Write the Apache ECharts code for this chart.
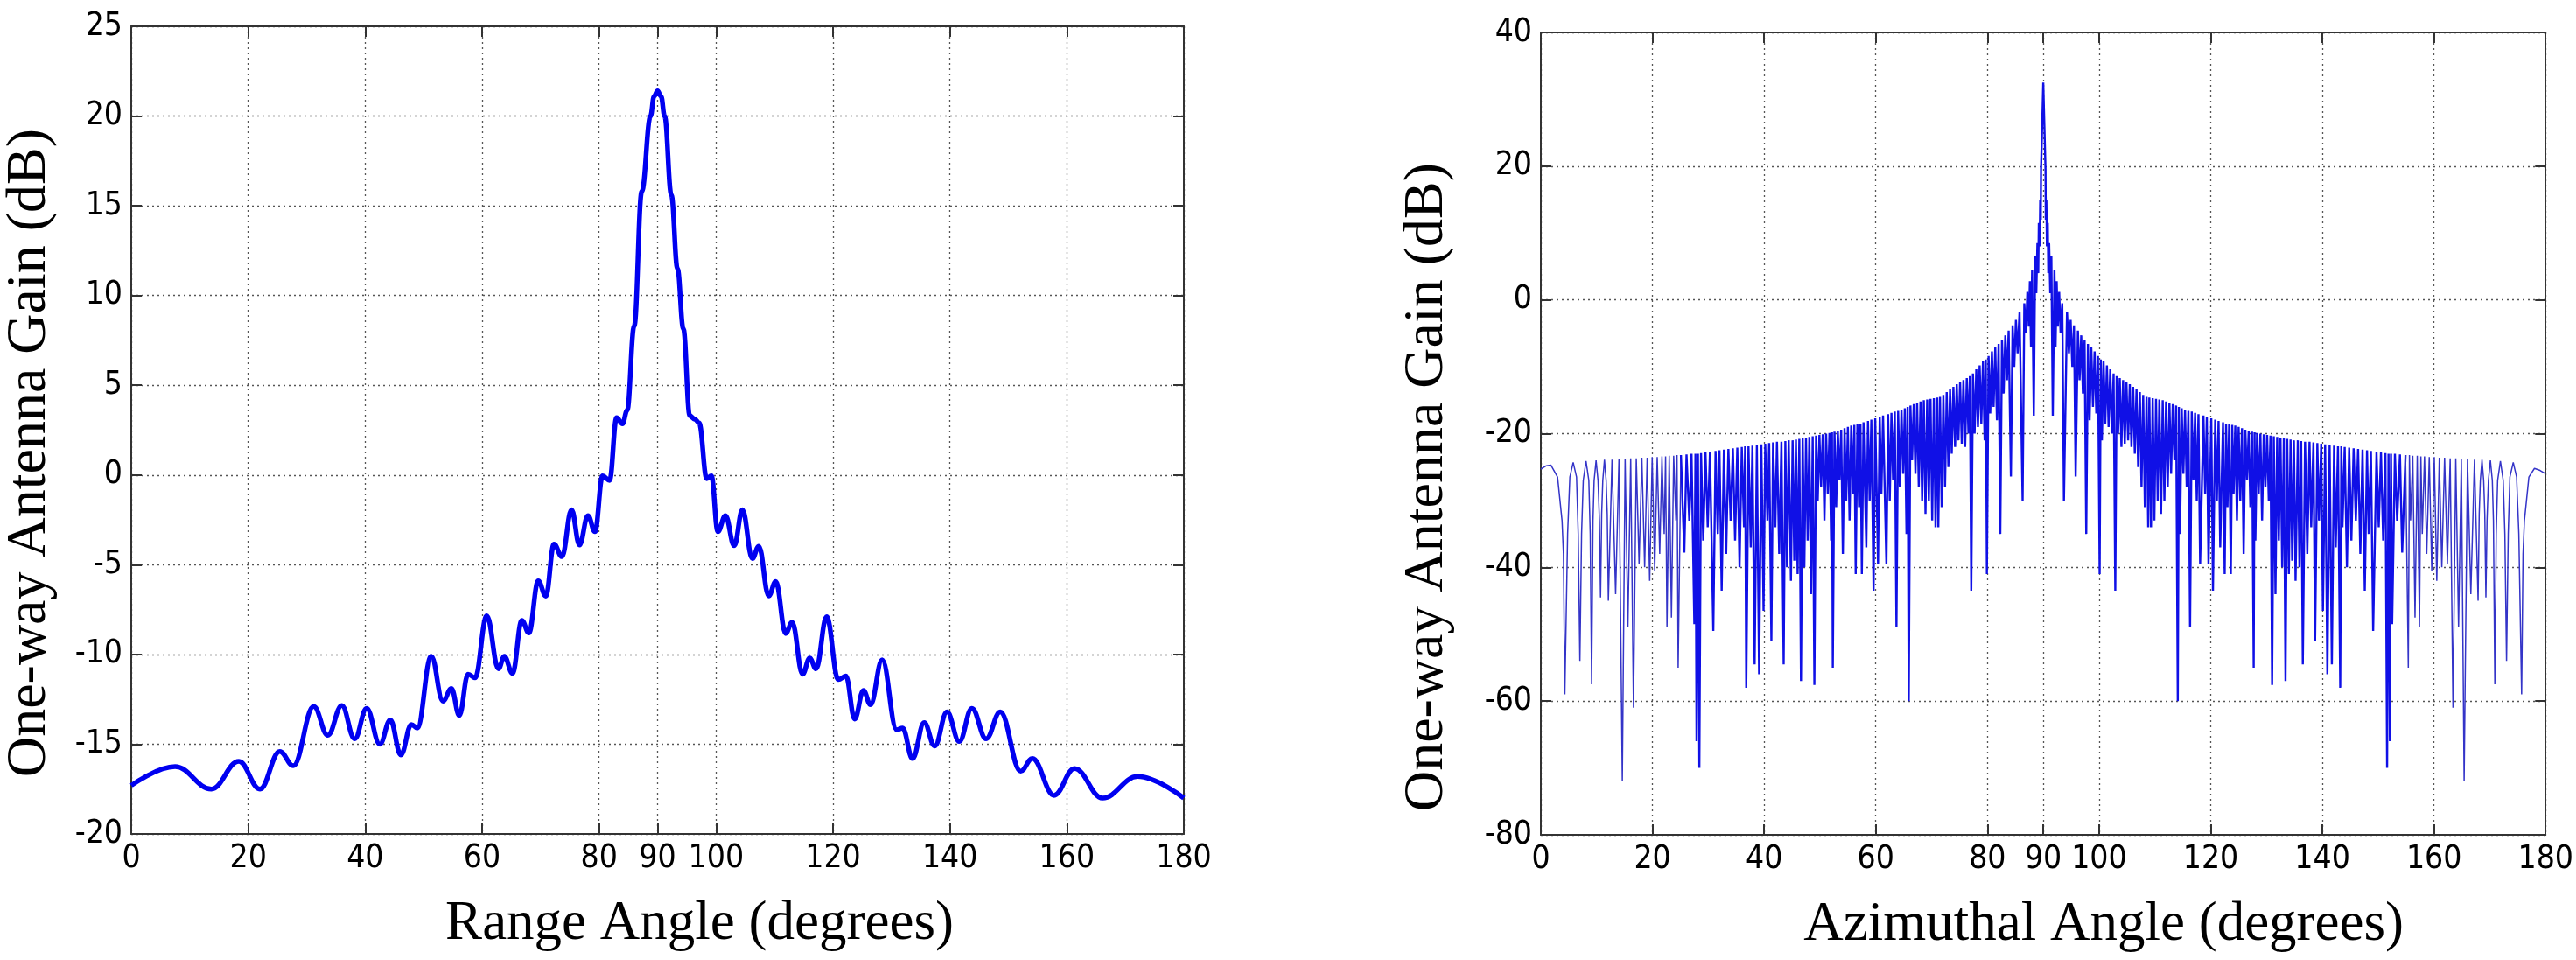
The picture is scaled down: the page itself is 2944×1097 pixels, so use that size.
<!DOCTYPE html>
<html>
<head>
<meta charset="utf-8">
<title>One-way antenna gain</title>
<script src="https://cdn.jsdelivr.net/npm/echarts@6/dist/echarts.min.js"></script>
<style>
  html, body { margin: 0; padding: 0; background: #fff; }
  #chart { width: 2944px; height: 1097px; }
</style>
</head>
<body>
<div id="chart"></div>
<script>
(function () {
    'use strict';

    // Tick marks shared by both angle axes (note the extra 90).
    var ANGLE_TICKS = [0, 20, 40, 60, 80, 90, 100, 120, 140, 160, 180];

    // Range pattern: [angle deg, gain dB], read at lobe peaks / dips.
    var rangeGain = [
        [0, -17.3], [7.5, -16.25], [13.7, -17.5], [18.4, -15.95], [22.0, -17.5],
        [25.4, -15.4], [27.7, -16.2], [31.2, -12.9], [33.6, -14.5], [36.0, -12.85],
        [38.2, -14.7], [40.25, -13.0], [42.5, -15.0], [44.3, -13.65], [46.1, -15.6],
        [47.9, -13.9], [48.9, -14.1], [51.3, -10.1], [53.3, -12.6], [54.75, -11.9],
        [56.1, -13.4], [57.6, -11.1], [58.8, -11.3], [60.8, -7.85], [62.8, -10.8],
        [63.8, -10.1], [65.2, -11.05], [66.8, -8.1], [68.0, -8.8], [69.6, -5.9],
        [70.9, -6.75], [72.3, -3.85], [73.65, -4.55], [75.3, -1.94], [76.65, -3.9],
        [78.1, -2.26], [79.3, -3.16], [80.6, -0.05], [81.8, -0.3], [83.0, 3.2],
        [84.0, 2.85], [84.8, 3.6], [86.0, 8.3], [87.3, 15.8], [88.8, 20.0],
        [89.4, 21.1], [90.0, 21.4], [90.6, 21.1], [91.2, 20.0], [92.35, 15.6],
        [93.4, 11.5], [94.4, 8.15], [95.5, 3.3], [96.4, 3.1], [97.1, 2.9],
        [98.4, -0.2], [99.2, -0.05],
        [100.3, -3.16], [101.6, -2.26], [103.1, -3.94], [104.5, -1.94], [106.2, -4.66],
        [107.3, -3.97], [109.0, -6.74], [110.2, -5.93], [111.9, -8.83], [113.0, -8.2],
        [114.8, -11.1], [116.0, -10.2], [117.1, -10.8], [118.9, -7.9], [120.9, -11.4],
        [122.2, -11.2], [123.7, -13.6], [125.2, -12.0], [126.4, -12.8], [128.4, -10.3],
        [130.9, -14.2], [131.9, -14.1], [133.6, -15.8], [135.6, -13.8], [137.4, -15.1],
        [139.5, -13.2], [141.6, -14.85], [143.75, -13.0], [146.2, -14.7], [148.6, -13.2],
        [152.1, -16.5], [154.1, -15.8], [157.8, -17.85], [161.3, -16.35], [166.1, -18.0],
        [172.1, -16.8], [180, -18.0]
    ];

    // Azimuth pattern, flat list of angle, dB pairs. Left half (0 -> 89.8).
    var azLeft = [
        0, -25.3, 1.0, -24.8, 1.8, -24.7, 3.0, -26.5, 3.8, -33, 4.05, -38, 4.3, -59,
        4.8, -35, 5.2, -26.5, 5.8, -24.3, 6.4, -26.5, 6.7, -35, 7.0, -54,
        7.3, -35, 7.6, -27, 8.1, -24.1, 8.6, -27, 8.85, -35, 9.1, -57.5,
        9.35, -33, 9.55, -27, 9.9, -24.0, 10.25, -27, 10.5, -33, 10.7, -44.5,
        10.9, -32, 11.1, -27, 11.4, -23.9, 11.7, -27, 11.9, -32, 12.1, -45,
        12.75, -23.9, 13.4, -44, 14.0, -23.8, 14.6, -72, 15.1, -23.8, 15.6, -49,
        16.1, -23.7, 16.6, -61, 17.1, -23.7, 17.6, -39.5, 18.1, -23.6, 18.6, -40,
        19.05, -23.6, 19.5, -42, 19.95, -23.5, 20.4, -40.5, 20.85, -23.5, 21.3, -38,
        21.7, -23.4, 22.1, -35, 22.35, -23.4, 22.6, -49, 23.0, -23.3, 23.4, -47.5,
        23.8, -23.3, 24.2, -33, 24.4, -23.2, 24.6, -55, 25.1, -23.2, 25.7, -37.8,
        26.1, -23.1, 26.6, -33, 27.0, -23.0, 27.5, -48.5, 27.7, -23.0, 27.9, -66,
        28.15, -23.0, 28.4, -70, 28.7, -22.9, 29.1, -36, 29.5, -22.8, 29.9, -34,
        30.3, -22.7, 30.9, -49.5, 31.3, -22.6, 31.7, -35, 32.0, -22.5, 32.4, -43.5,
        32.8, -22.4, 33.2, -38, 33.6, -22.3, 34.0, -33, 34.4, -22.2, 34.8, -36,
        35.2, -22.1, 35.6, -40, 36.0, -22.0, 36.4, -34, 36.6, -21.9, 36.8, -58,
        37.2, -21.9, 37.6, -37, 37.9, -21.8, 38.3, -54.5, 38.7, -21.7, 39.1, -56,
        39.5, -21.6, 39.9, -46.5, 40.2, -21.5, 40.6, -33, 40.9, -21.4, 41.3, -51,
        41.6, -21.3, 42.0, -34, 42.3, -21.2, 42.7, -38, 43.1, -21.2, 43.5, -54.5,
        43.8, -21.1, 44.1, -40, 44.4, -21.0, 44.8, -42, 45.1, -21.0, 45.4, -39,
        45.7, -20.9, 46.0, -41, 46.3, -20.8, 46.6, -57, 46.9, -20.7, 47.2, -40,
        47.5, -20.6, 47.8, -36, 48.1, -20.5, 48.4, -44, 48.7, -20.4, 49.0, -57.6,
        49.3, -20.3, 49.6, -30, 49.9, -20.2, 50.2, -28, 50.5, -20.1, 50.8, -33,
        51.1, -20.0, 51.4, -29, 51.7, -19.9, 52.0, -36, 52.15, -19.8, 52.3, -55,
        52.6, -19.7, 52.9, -31, 53.2, -19.6, 53.5, -27, 53.8, -19.4, 54.1, -38,
        54.4, -19.2, 54.7, -30, 55.0, -19.0, 55.3, -33, 55.6, -18.8, 55.9, -29,
        56.15, -18.7, 56.4, -41, 56.7, -18.6, 57.0, -31, 57.25, -18.5, 57.5, -41,
        57.8, -18.3, 58.3, -37, 58.6, -18.1, 58.9, -30, 59.2, -17.9, 59.6, -43.5,
        59.9, -17.7, 60.4, -39.5, 60.7, -17.5, 61.0, -29, 61.3, -17.3, 61.9, -39.5,
        62.2, -17.1, 62.5, -30, 62.8, -16.9, 63.1, -27, 63.4, -16.7, 63.7, -49,
        64.0, -16.6, 64.3, -28, 64.6, -16.4, 64.9, -26, 65.2, -16.2, 65.5, -35,
        65.7, -16.0, 65.9, -60, 66.2, -15.8, 66.5, -24, 66.8, -15.6, 67.1, -26,
        67.4, -15.4, 67.7, -28, 68.0, -15.2, 68.3, -30, 68.6, -15.0, 68.9, -32,
        69.2, -14.9, 69.5, -30, 69.8, -14.8, 70.1, -33, 70.4, -14.7, 70.7, -34,
        71.0, -14.6, 71.2, -34, 71.5, -14.5, 71.8, -31, 72.1, -14.2, 72.4, -28,
        72.7, -13.8, 73.0, -25, 73.3, -13.4, 73.6, -23, 73.9, -13.0, 74.2, -22,
        74.5, -12.6, 74.8, -21, 75.1, -12.3, 75.4, -21.5, 75.7, -12.0, 76.0, -22,
        76.3, -11.7, 76.6, -20, 76.85, -11.4, 77.1, -43.5, 77.4, -11.0, 77.7, -20,
        78.0, -10.4, 78.3, -19, 78.6, -9.8, 78.9, -18.5, 79.2, -9.2, 79.5, -21,
        79.7, -8.9, 79.9, -41, 80.2, -8.4, 80.5, -17, 80.8, -7.7, 81.1, -16,
        81.4, -7.1, 81.7, -18, 82.0, -6.6, 82.3, -35, 82.6, -6.0, 82.9, -14,
        83.2, -5.3, 83.5, -12, 83.8, -4.6, 84.2, -26.4, 84.5, -3.8, 84.8, -10,
        85.1, -3.0, 85.4, -8, 85.75, -1.8, 86.3, -30, 86.6, -0.5, 86.9, -5,
        87.15, 1.2, 87.4, -4, 87.6, 2.8, 87.8, -7, 88.0, 4.5, 88.3, -17.3,
        88.55, 6.5, 88.75, 1, 88.95, 8.5, 89.1, 4, 89.2, 11.5, 89.35, 8,
        89.45, 15, 89.55, 12, 89.6, 19.5, 89.8, 26
    ];

    // Main beam peak.
    var azPeak = [90.0, 32.5];

    // Right half (90.2 -> 180).
    var azRight = [
        90.2, 26, 90.4, 19.5, 90.45, 12, 90.55, 15, 90.65, 8, 90.8, 11.5,
        90.9, 4, 91.05, 8.5, 91.25, 1, 91.45, 6.5, 91.7, -17.3, 92.0, 4.5,
        92.2, -7, 92.4, 2.8, 92.6, -4, 92.85, 1.2, 93.1, -5, 93.4, -0.5,
        93.7, -30, 94.25, -1.8, 94.6, -8, 94.9, -3.0, 95.2, -10, 95.5, -3.8,
        95.8, -26.4, 96.2, -4.6, 96.5, -12, 96.8, -5.3, 97.1, -14, 97.4, -6.0,
        97.7, -35, 98.0, -6.6, 98.3, -18, 98.6, -7.1, 98.9, -16, 99.2, -7.7,
        99.5, -17, 99.8, -8.4, 100.1, -41, 100.3, -8.9, 100.5, -21, 100.8, -9.2,
        101.1, -18.5, 101.4, -9.8, 101.7, -19, 102.0, -10.4, 102.3, -20, 102.6, -11.0,
        102.9, -43.5, 103.15, -11.4, 103.4, -20, 103.7, -11.7, 104.0, -22, 104.3, -12.0,
        104.6, -21.5, 104.9, -12.3, 105.2, -21, 105.5, -12.6, 105.8, -22, 106.1, -13.0,
        106.4, -23, 106.7, -13.4, 107.0, -25, 107.3, -13.8, 107.6, -28, 107.9, -14.2,
        108.2, -31, 108.5, -14.5, 108.8, -34, 109.0, -14.6, 109.3, -34, 109.6, -14.7,
        109.9, -33, 110.2, -14.8, 110.5, -30, 110.8, -14.9, 111.1, -32, 111.4, -15.0,
        111.7, -30, 112.0, -15.2, 112.3, -28, 112.6, -15.4, 112.9, -26, 113.2, -15.6,
        113.5, -24, 113.8, -15.8, 114.1, -60, 114.3, -16.0, 114.5, -35, 114.8, -16.2,
        115.1, -26, 115.4, -16.4, 115.7, -28, 116.0, -16.6, 116.3, -49, 116.6, -16.7,
        116.9, -27, 117.2, -16.9, 117.5, -30, 117.8, -17.1, 118.1, -39.5, 118.7, -17.3,
        119.0, -29, 119.3, -17.5, 119.6, -39.5, 120.1, -17.7, 120.4, -43.5, 120.8, -17.9,
        121.1, -30, 121.4, -18.1, 121.7, -37, 122.2, -18.3, 122.5, -41, 122.75, -18.5,
        123.0, -31, 123.3, -18.6, 123.6, -41, 123.85, -18.7, 124.1, -29, 124.4, -18.8,
        124.7, -33, 125.0, -19.0, 125.3, -30, 125.6, -19.2, 125.9, -38, 126.2, -19.4,
        126.5, -27, 126.8, -19.6, 127.1, -31, 127.4, -19.7, 127.7, -55, 127.85, -19.8,
        128.0, -36, 128.3, -19.9, 128.6, -29, 128.9, -20.0, 129.2, -33, 129.5, -20.1,
        129.8, -28, 130.1, -20.2, 130.4, -30, 130.7, -20.3, 131.0, -57.6, 131.3, -20.4,
        131.6, -44, 131.9, -20.5, 132.2, -36, 132.5, -20.6, 132.8, -40, 133.1, -20.7,
        133.4, -57, 133.7, -20.8, 134.0, -41, 134.3, -20.9, 134.6, -39, 134.9, -21.0,
        135.2, -42, 135.6, -21.0, 135.9, -40, 136.2, -21.1, 136.5, -54.5, 136.9, -21.2,
        137.3, -38, 137.7, -21.2, 138.0, -34, 138.4, -21.3, 138.7, -51, 139.1, -21.4,
        139.4, -33, 139.8, -21.5, 140.1, -46.5, 140.5, -21.6, 140.9, -56, 141.3, -21.7,
        141.7, -54.5, 142.1, -21.8, 142.4, -37, 142.8, -21.9, 143.2, -58, 143.4, -21.9,
        143.6, -34, 144.0, -22.0, 144.4, -40, 144.8, -22.1, 145.2, -36, 145.6, -22.2,
        146.0, -33, 146.4, -22.3, 146.8, -38, 147.2, -22.4, 147.6, -43.5, 148.0, -22.5,
        148.3, -35, 148.7, -22.6, 149.1, -49.5, 149.7, -22.7, 150.1, -34, 150.5, -22.8,
        150.9, -36, 151.3, -22.9, 151.6, -70, 151.85, -23.0, 152.1, -66, 152.3, -23.0,
        152.5, -48.5, 153.0, -23.0, 153.4, -33, 153.9, -23.1, 154.3, -37.8, 154.9, -23.2,
        155.4, -55, 155.6, -23.2, 155.8, -33, 156.2, -23.3, 156.6, -47.5, 157.0, -23.3,
        157.4, -49, 157.65, -23.4, 157.9, -35, 158.3, -23.4, 158.7, -38, 159.15, -23.5,
        159.6, -40.5, 160.05, -23.5, 160.5, -42, 160.95, -23.6, 161.4, -40, 161.9, -23.6,
        162.4, -39.5, 162.9, -23.7, 163.4, -61, 163.9, -23.7, 164.4, -49, 164.9, -23.8,
        165.4, -72, 166.0, -23.8, 166.6, -44, 167.25, -23.9, 167.9, -45, 168.1, -32,
        168.3, -27, 168.6, -23.9, 168.9, -27, 169.1, -32, 169.3, -44.5, 169.5, -33,
        169.75, -27, 170.1, -24.0, 170.45, -27, 170.65, -33, 170.9, -57.5, 171.15, -35,
        171.4, -27, 171.9, -24.1, 172.4, -27, 172.7, -35, 173.0, -54, 173.3, -35,
        173.6, -26.5, 174.2, -24.3, 174.8, -26.5, 175.2, -35, 175.7, -59, 175.95, -38,
        176.2, -33, 177.0, -26.5, 178.0, -25.2, 179.0, -25.5, 180, -26.0
    ];

    var SERIF = "'Liberation Serif', 'Times New Roman', serif";
    var NARROW = "'Liberation Sans Narrow', 'DejaVu Sans Condensed', 'Arial Narrow', sans-serif";

    function pairs(flat) {
        var out = [];
        for (var i = 0; i < flat.length; i += 2) out.push([flat[i], flat[i + 1]]);
        return out;
    }

    var azData = pairs(azLeft).concat([azPeak], pairs(azRight));

    // Sparse outer lobes are drawn thin, the crowded middle a bit heavier so it
    // fills in solid the way the original plot does. Boundary points overlap.
    function inRange(lo, hi) {
        return azData.filter(function (p) { return p[0] >= lo && p[0] <= hi; });
    }
    var azOuterL = inRange(0, 25.1);
    var azMiddle = inRange(25.1, 154.9);
    var azOuterR = inRange(154.9, 180);

    /* ------------------------------------------------------------------ */
    /*  Axis helpers                                                       */
    /* ------------------------------------------------------------------ */

    var BOX = { show: true, onZero: false, lineStyle: { color: '#333', width: 2 } };
    var GRID_LINE = { show: true, lineStyle: { color: '#555', width: 1.3, type: [2, 4] } };
    var LABEL = { color: '#000', fontFamily: NARROW, fontSize: 37 };
    var TICK_STYLE = { color: '#333', width: 2 };

    function angleAxis(gridIndex, isTop, name, nameShift) {
        return {
            type: 'value', gridIndex: gridIndex, min: 0, max: 180,
            position: isTop ? 'top' : 'bottom',
            axisLine: BOX,
            axisTick: { show: true, inside: true, length: 12, customValues: ANGLE_TICKS, lineStyle: TICK_STYLE },
            axisLabel: isTop ? { show: false } : Object.assign({ margin: 10, customValues: ANGLE_TICKS }, LABEL),
            splitLine: isTop ? { show: false } : GRID_LINE,
            name: isTop ? '' : name,
            nameLocation: 'middle', nameGap: 72,
            nameTextStyle: { fontFamily: SERIF, fontSize: 63, color: '#000', padding: [0, 0, 0, (nameShift || 0) * 2] }
        };
    }

    function gainAxis(gridIndex, isRight, min, max, interval, name, nameShift, nameGap) {
        return {
            type: 'value', gridIndex: gridIndex, min: min, max: max, interval: interval,
            position: isRight ? 'right' : 'left',
            axisLine: BOX,
            axisTick: { show: true, inside: true, length: 12, lineStyle: TICK_STYLE },
            axisLabel: isRight ? { show: false } : Object.assign({ margin: 10 }, LABEL),
            splitLine: isRight ? { show: false } : GRID_LINE,
            name: isRight ? '' : name,
            nameLocation: 'middle', nameGap: nameGap || 80,
            nameTextStyle: { fontFamily: SERIF, fontSize: 64, color: '#000', padding: [0, (nameShift || 0) * 2, 0, 0] }
        };
    }

    function azSeries(data, width, color) {
        return {
            type: 'line', xAxisIndex: 2, yAxisIndex: 2,
            data: data, sampling: null, symbol: 'none',
            lineStyle: { color: color, width: width }
        };
    }

    var chart = echarts.init(document.getElementById('chart'), null, { renderer: 'canvas' });

    chart.setOption({
        backgroundColor: '#fff',
        animation: false,
        grid: [
            { left: 150, top: 30, width: 1203, height: 923 },
            { left: 1761, top: 37, width: 1150, height: 917 }
        ],
        xAxis: [
            angleAxis(0, false, 'Range Angle (degrees)', 48),
            angleAxis(0, true),
            angleAxis(1, false, 'Azimuthal Angle (degrees)', 69),
            angleAxis(1, true)
        ],
        yAxis: [
            gainAxis(0, false, -20, 25, 5, 'One-way Antenna Gain (dB)', 26, 84),
            gainAxis(0, true, -20, 25, 5),
            gainAxis(1, false, -80, 40, 20, 'One-way Antenna Gain (dB)', 61, 98),
            gainAxis(1, true, -80, 40, 20)
        ],
        series: [
            {
                type: 'line', xAxisIndex: 0, yAxisIndex: 0,
                data: rangeGain, smooth: 0.4, smoothMonotone: 'x',
                symbol: 'none', lineStyle: { color: '#0000f0', width: 5.5 }
            },
            azSeries(azOuterL, 1.5, '#3434c8'),
            azSeries(azMiddle, 2.4, '#1010e6'),
            azSeries(azOuterR, 1.5, '#3434c8')
        ]
    });
})();
</script>
</body>
</html>
